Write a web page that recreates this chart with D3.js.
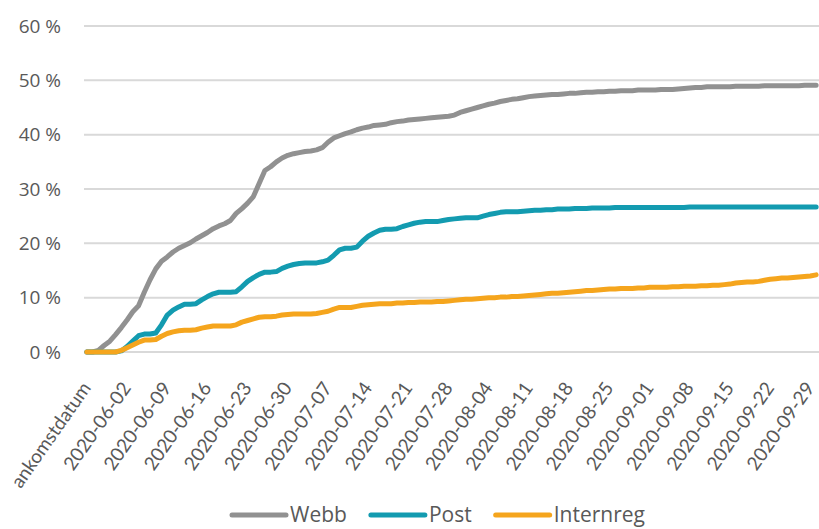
<!DOCTYPE html>
<html>
<head>
<meta charset="utf-8">
<script src="https://cdn.jsdelivr.net/npm/d3@7"></script>
<style>
  body { margin: 0; background: #fff; }
  text { font-family: "Open Sans", "Noto Sans", sans-serif; fill: #595959; }
</style>
</head>
<body>
<div id="chart"></div>
<script>
// first category is the header row, then one category per day 2020-05-27 .. 2020-09-30
const firstLabel = "ankomstdatum";
const days = d3.timeDay.range(new Date(2020, 4, 27), new Date(2020, 9, 1)).map(d3.timeFormat("%Y-%m-%d"));
const categories = [firstLabel].concat(days);

const tickLabels = ["ankomstdatum", "2020-06-02", "2020-06-09", "2020-06-16", "2020-06-23", "2020-06-30",
  "2020-07-07", "2020-07-14", "2020-07-21", "2020-07-28", "2020-08-04", "2020-08-11", "2020-08-18",
  "2020-08-25", "2020-09-01", "2020-09-08", "2020-09-15", "2020-09-22", "2020-09-29"];

const yTicks = [0, 10, 20, 30, 40, 50, 60];

const seriesNames = ["Webb", "Post", "Internreg"];
const seriesColors = ["#919191", "#139bb0", "#f5a51d"];

const webb = [
  0, 0, 0.3, 1.2, 2.0, 3.2, 4.5, 5.9, 7.4, 8.5,
  11.0, 13.3, 15.3, 16.7, 17.5, 18.4, 19.1, 19.6, 20.1, 20.8,
  21.4, 22.0, 22.7, 23.2, 23.6, 24.2, 25.5, 26.4, 27.4, 28.6,
  31.0, 33.4, 34.1, 35.0, 35.7, 36.2, 36.5, 36.7, 36.9, 37.0,
  37.2, 37.6, 38.6, 39.4, 39.8, 40.2, 40.5, 40.9, 41.2, 41.4,
  41.7, 41.8, 41.9, 42.2, 42.4, 42.5, 42.7, 42.8, 42.9, 43.0,
  43.1, 43.2, 43.3, 43.4, 43.6, 44.1, 44.4, 44.7, 45.0, 45.3,
  45.6, 45.8, 46.1, 46.3, 46.5, 46.6, 46.8, 47.0, 47.1, 47.2,
  47.3, 47.4, 47.4, 47.5, 47.6, 47.6, 47.7, 47.8, 47.8, 47.9,
  47.9, 48.0, 48.0, 48.1, 48.1, 48.1, 48.2, 48.2, 48.2, 48.2,
  48.3, 48.3, 48.3, 48.4, 48.5, 48.6, 48.7, 48.7, 48.8, 48.8,
  48.8, 48.8, 48.8, 48.9, 48.9, 48.9, 48.9, 48.9, 49.0, 49.0,
  49.0, 49.0, 49.0, 49.0, 49.0, 49.1, 49.1, 49.1
];

const post = [
  0, 0, 0, 0, 0, 0, 0.2, 1.0, 2.0, 3.0,
  3.3, 3.3, 3.5, 5.0, 6.8, 7.7, 8.3, 8.8, 8.8, 8.9,
  9.6, 10.2, 10.7, 11.0, 11.0, 11.0, 11.1, 12.0, 13.0, 13.7,
  14.3, 14.7, 14.7, 14.8, 15.4, 15.8, 16.1, 16.3, 16.4, 16.4,
  16.4, 16.6, 16.9, 17.8, 18.8, 19.1, 19.1, 19.3, 20.4, 21.3,
  21.9, 22.4, 22.6, 22.6, 22.7, 23.1, 23.4, 23.7, 23.9, 24.0,
  24.0, 24.0, 24.2, 24.4, 24.5, 24.6, 24.7, 24.7, 24.7, 25.0,
  25.3, 25.5, 25.7, 25.8, 25.8, 25.8, 25.9, 26.0, 26.1, 26.1,
  26.2, 26.2, 26.3, 26.3, 26.3, 26.4, 26.4, 26.4, 26.5, 26.5,
  26.5, 26.5, 26.6, 26.6, 26.6, 26.6, 26.6, 26.6, 26.6, 26.6,
  26.6, 26.6, 26.6, 26.6, 26.6, 26.7, 26.7, 26.7, 26.7, 26.7,
  26.7, 26.7, 26.7, 26.7, 26.7, 26.7, 26.7, 26.7, 26.7, 26.7,
  26.7, 26.7, 26.7, 26.7, 26.7, 26.7, 26.7, 26.7
];

const internreg = [
  0, 0, 0, 0, 0, 0, 0.3, 0.8, 1.3, 1.8,
  2.2, 2.2, 2.3, 2.9, 3.4, 3.7, 3.9, 4.0, 4.0, 4.1,
  4.4, 4.6, 4.8, 4.8, 4.8, 4.8, 5.0, 5.5, 5.8, 6.1,
  6.4, 6.5, 6.5, 6.6, 6.8, 6.9, 7.0, 7.0, 7.0, 7.0,
  7.1, 7.3, 7.5, 7.9, 8.2, 8.2, 8.2, 8.4, 8.6, 8.7,
  8.8, 8.9, 8.9, 8.9, 9.0, 9.0, 9.1, 9.1, 9.2, 9.2,
  9.2, 9.3, 9.3, 9.4, 9.5, 9.6, 9.7, 9.7, 9.8, 9.9,
  10.0, 10.0, 10.1, 10.1, 10.2, 10.2, 10.3, 10.4, 10.5, 10.6,
  10.7, 10.8, 10.8, 10.9, 11.0, 11.1, 11.2, 11.3, 11.3, 11.4,
  11.5, 11.6, 11.6, 11.7, 11.7, 11.7, 11.8, 11.8, 11.9, 11.9,
  11.9, 11.9, 12.0, 12.0, 12.1, 12.1, 12.1, 12.2, 12.2, 12.3,
  12.3, 12.4, 12.5, 12.7, 12.8, 12.9, 12.9, 13.0, 13.2, 13.4,
  13.5, 13.6, 13.6, 13.7, 13.8, 13.9, 14.0, 14.2
];

const allSeries = [webb, post, internreg];

const width = 819, height = 529;
const margin = {top: 26, right: 0, bottom: 177, left: 84};

const svg = d3.select("#chart").append("svg")
  .attr("width", width)
  .attr("height", height);

const x = d3.scaleBand()
  .domain(categories)
  .range([margin.left, width - margin.right])
  .padding(0);

const y = d3.scaleLinear()
  .domain([0, 60])
  .range([height - margin.bottom, margin.top]);

// gridlines
svg.append("g")
  .selectAll("line")
  .data(yTicks)
  .enter().append("line")
    .attr("x1", margin.left)
    .attr("x2", width - margin.right)
    .attr("y1", d => y(d))
    .attr("y2", d => y(d))
    .attr("stroke", "#d9d9d9")
    .attr("stroke-width", 2);

// y axis labels
svg.append("g")
  .selectAll("text")
  .data(yTicks)
  .enter().append("text")
    .attr("x", 61)
    .attr("y", d => y(d))
    .attr("dy", "0.35em")
    .attr("text-anchor", "end")
    .style("font-size", "19px")
    .text(d => d + "\u00a0%");

// x axis labels, rotated
const xAxis = svg.append("g")
  .attr("transform", "translate(0," + y(0) + ")")
  .call(d3.axisBottom(x).tickValues(tickLabels).tickSize(0).tickPadding(0));
xAxis.select(".domain").remove();
xAxis.selectAll("text")
  .attr("y", 0)
  .attr("dy", 0)
  .attr("transform", "translate(" + (x.bandwidth() / 2 + 2) + ",36)rotate(-55)")
  .style("text-anchor", "end")
  .style("font-size", "19px")
  .style("font-family", "Lato, 'Open Sans', sans-serif")
  .attr("fill", "#595959");

// lines
const line = d3.line()
  .x((d, i) => x(categories[i]) + x.bandwidth() / 2)
  .y(d => y(d));

svg.append("g")
  .selectAll("path")
  .data(allSeries)
  .enter().append("path")
    .attr("d", d => line(d))
    .attr("fill", "none")
    .attr("stroke", (d, i) => seriesColors[i])
    .attr("stroke-width", 5)
    .attr("stroke-linejoin", "round")
    .attr("stroke-linecap", "round");

// legend
const legend = svg.append("g").attr("transform", "translate(0,515)");
let lx = 232;
seriesNames.forEach(function(name, i) {
  legend.append("line")
    .attr("x1", lx).attr("x2", lx + 54)
    .attr("y1", 0).attr("y2", 0)
    .attr("stroke", seriesColors[i])
    .attr("stroke-width", 5)
    .attr("stroke-linecap", "round");
  const t = legend.append("text")
    .attr("x", lx + 58)
    .attr("y", 0)
    .attr("dy", "0.35em")
    .style("font-size", "21px")
    .text(name);
  lx += 58 + t.node().getComputedTextLength() + 24;
});
</script>
</body>
</html>
